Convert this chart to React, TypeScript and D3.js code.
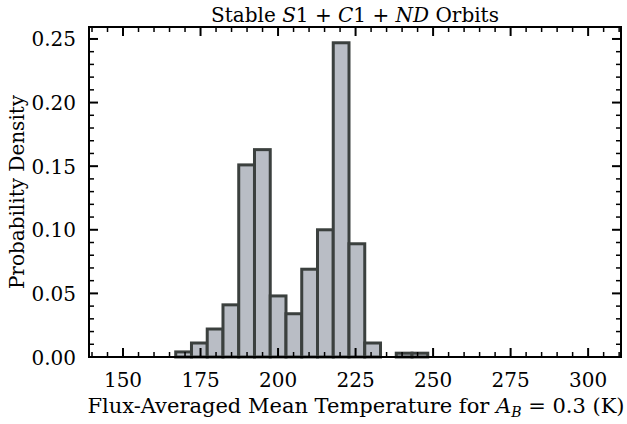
import React from "react";
import * as d3 from "d3";

const binStart = 167.0;
const binWidth = 5.08;
const densities = [0.004, 0.011, 0.022, 0.041, 0.151, 0.163, 0.048, 0.034, 0.069, 0.1, 0.247, 0.089, 0.011, 0.0, 0.003, 0.003];
const xTicks = [150, 175, 200, 225, 250, 275, 300];
const yTicks = [0.0, 0.05, 0.1, 0.15, 0.2, 0.25];

const W = 627, H = 424;
const M = { left: 89, right: 621, top: 27, bottom: 357 };
const FONT = "DejaVu Serif";

export default function App() {
  const x = d3.scaleLinear().domain([139.03, 310.6]).range([M.left, M.right]);
  const y = d3.scaleLinear().domain([0, 0.2594]).range([M.bottom, M.top]);
  const xMinor = d3.range(140, 311, 5).filter((v) => v % 25 !== 0);
  const yMinor = d3.range(0, 26, 1).map((v) => v / 100).filter((v) => Math.round(v * 100) % 5 !== 0);
  const bins = densities.map((d, i) => ({ x0: binStart + i * binWidth, x1: binStart + (i + 1) * binWidth, d }));
  const fs = 20;
  const ts = { fontFamily: FONT, fontSize: fs };
  return (
    <svg width={W} height={H} style={{ position: "absolute", left: 0, top: 0, background: "#fff" }}>
      <rect width={W} height={H} fill="#fff" />
      {bins.map((b, i) => (
        <rect key={i} x={x(b.x0)} y={y(b.d)} width={x(b.x1) - x(b.x0)} height={y(0) - y(b.d)}
          fill="#b9bdc5" stroke="#3b403e" strokeWidth={3} />
      ))}
      {xTicks.map((t) => (
        <g key={"xt" + t}>
          <line x1={x(t)} x2={x(t)} y1={M.bottom} y2={M.bottom - 9} stroke="#000" strokeWidth={2} />
          <line x1={x(t)} x2={x(t)} y1={M.top} y2={M.top + 9} stroke="#000" strokeWidth={2} />
          <text x={x(t)} y={387} textAnchor="middle" style={ts}>{t}</text>
        </g>
      ))}
      {xMinor.map((t) => (
        <g key={"xm" + t}>
          <line x1={x(t)} x2={x(t)} y1={M.bottom} y2={M.bottom - 5} stroke="#000" strokeWidth={1.5} />
          <line x1={x(t)} x2={x(t)} y1={M.top} y2={M.top + 5} stroke="#000" strokeWidth={1.5} />
        </g>
      ))}
      {yTicks.map((t) => (
        <g key={"yt" + t}>
          <line x1={M.left} x2={M.left + 9} y1={y(t)} y2={y(t)} stroke="#000" strokeWidth={2} />
          <line x1={M.right} x2={M.right - 9} y1={y(t)} y2={y(t)} stroke="#000" strokeWidth={2} />
          <text x={76} y={y(t) + 7.5} textAnchor="end" style={ts}>{t.toFixed(2)}</text>
        </g>
      ))}
      {yMinor.map((t) => (
        <g key={"ym" + t}>
          <line x1={M.left} x2={M.left + 5} y1={y(t)} y2={y(t)} stroke="#000" strokeWidth={1.5} />
          <line x1={M.right} x2={M.right - 5} y1={y(t)} y2={y(t)} stroke="#000" strokeWidth={1.5} />
        </g>
      ))}
      <rect x={M.left} y={M.top} width={M.right - M.left} height={M.bottom - M.top} fill="none" stroke="#000" strokeWidth={2} />
      <text x={(M.left + M.right) / 2} y={22} textAnchor="middle" style={ts}>
        Stable <tspan fontStyle="italic">S</tspan>1 + <tspan fontStyle="italic">C</tspan>1 + <tspan fontStyle="italic">ND</tspan> Orbits
      </text>
      <text x={(M.left + M.right) / 2 + 1} y={413} textAnchor="middle" style={{ fontFamily: FONT, fontSize: 21 }}>
        Flux-Averaged Mean Temperature for <tspan fontStyle="italic">A</tspan><tspan fontStyle="italic" fontSize={14} dy={4}>B</tspan><tspan dy={-4}> = 0.3 (K)</tspan>
      </text>
      <text transform={`translate(24, ${(M.top + M.bottom) / 2}) rotate(-90)`} textAnchor="middle" style={ts}>
        Probability Density
      </text>
    </svg>
  );
}
